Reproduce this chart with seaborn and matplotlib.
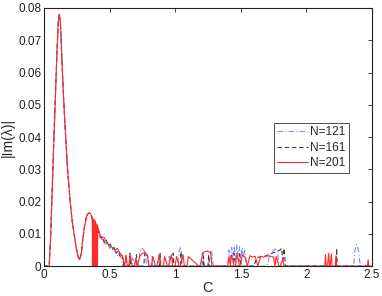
import matplotlib
matplotlib.use("Agg")
import matplotlib.pyplot as plt
import seaborn as sns

# ---------------------------------------------------------------
# data (C vs |Im(lambda)|)
# ---------------------------------------------------------------
# main hump, shared by all three N
HUMP_C = [0.0, 0.04, 0.05, 0.06, 0.07, 0.08, 0.09, 0.10, 0.11, 0.117, 0.125,
          0.13, 0.14, 0.15, 0.16, 0.17, 0.18, 0.19, 0.20, 0.215, 0.23, 0.245,
          0.26, 0.272, 0.285, 0.295, 0.31, 0.325, 0.335, 0.345, 0.355]
HUMP_V = [0.0, 0.0, 0.008, 0.02, 0.033, 0.045, 0.056, 0.067, 0.076, 0.078, 0.076,
          0.071, 0.061, 0.052, 0.044, 0.037, 0.030, 0.025, 0.020, 0.014, 0.010, 0.006,
          0.003, 0.002, 0.004, 0.008, 0.0125, 0.0155, 0.0162, 0.0165, 0.0162]

# N=121 tail
C_121 = [0.365, 0.375, 0.385, 0.395, 0.405, 0.415, 0.425, 0.44, 0.455, 0.47, 0.485,
         0.50, 0.515, 0.53, 0.545, 0.56, 0.575, 0.59, 0.60, 0.62, 0.625, 0.64, 0.645,
         0.67, 0.675, 0.70, 0.72, 0.73, 0.745, 0.76, 0.775, 0.78, 0.82, 0.825, 0.83,
         0.87, 0.875, 0.88, 0.95, 0.955, 0.96, 1.02, 1.03, 1.04, 1.05, 1.06, 1.2,
         1.205, 1.215, 1.22, 1.26, 1.27, 1.28, 1.29, 1.40, 1.41, 1.42, 1.43, 1.44,
         1.45, 1.46, 1.47, 1.48, 1.49, 1.50, 1.51, 1.52, 1.53, 1.54, 1.55, 1.70,
         1.72, 1.74, 1.76, 1.78, 1.79, 2.36, 2.37, 2.38, 2.39, 2.40, 2.41, 2.5]
IM_121 = [0.0152, 0.0132, 0.0138, 0.0115, 0.0122, 0.0098, 0.0105, 0.0078, 0.0085, 0.0068, 0.0075,
          0.0055, 0.006, 0.0045, 0.005, 0.0032, 0.0038, 0.0025, 0.0, 0.0, 0.003, 0.0, 0.0,
          0.0, 0.0025, 0.0, 0.0, 0.004, 0.0057, 0.005, 0.004, 0.0, 0.0, 0.003, 0.0,
          0.0, 0.0035, 0.0, 0.0, 0.003, 0.0, 0.0, 0.0045, 0.0057, 0.004, 0.0, 0.0,
          0.004, 0.004, 0.0, 0.0, 0.0047, 0.004, 0.0, 0.0, 0.005, 0.002, 0.0058, 0.003,
          0.0062, 0.002, 0.0065, 0.003, 0.006, 0.002, 0.0058, 0.0025, 0.005, 0.002, 0.0, 0.0,
          0.0035, 0.0045, 0.0053, 0.005, 0.0, 0.0, 0.005, 0.0067, 0.006, 0.004, 0.0, 0.0]

# N=161 tail
C_161 = [0.365, 0.375, 0.385, 0.395, 0.405, 0.415, 0.43, 0.445, 0.46, 0.475, 0.49,
         0.505, 0.52, 0.535, 0.55, 0.565, 0.58, 0.595, 0.61, 0.65, 0.655, 0.66, 0.70,
         0.705, 0.71, 0.76, 0.77, 0.78, 0.79, 0.80, 0.88, 0.885, 0.89, 0.98, 0.985,
         0.99, 1.04, 1.045, 1.05, 1.21, 1.215, 1.22, 1.25, 1.255, 1.26, 1.44, 1.45,
         1.46, 1.48, 1.49, 1.50, 1.60, 1.62, 1.65, 1.68, 1.71, 1.74, 1.77, 1.80,
         1.81, 1.82, 1.83, 1.84, 2.225, 2.23, 2.235, 2.5]
IM_161 = [0.015, 0.0135, 0.0128, 0.0118, 0.011, 0.0108, 0.0088, 0.0092, 0.0072, 0.008, 0.0062,
          0.0068, 0.0052, 0.0058, 0.004, 0.0048, 0.003, 0.0036, 0.0, 0.0, 0.004, 0.0, 0.0,
          0.0035, 0.0, 0.0, 0.0045, 0.004, 0.003, 0.0, 0.0, 0.004, 0.0, 0.0, 0.004,
          0.0, 0.0, 0.0045, 0.0, 0.0, 0.003, 0.0, 0.0, 0.0035, 0.0, 0.0, 0.004,
          0.0, 0.0, 0.0038, 0.0, 0.0, 0.0025, 0.003, 0.003, 0.0035, 0.004, 0.0045, 0.005,
          0.0055, 0.002, 0.0055, 0.0, 0.0, 0.0055, 0.0, 0.0]

# N=201 tail
C_201 = [0.36, 0.368, 0.370, 0.373, 0.378, 0.380, 0.384, 0.390, 0.392, 0.396,
         0.402, 0.404, 0.408, 0.41, 0.42, 0.43, 0.44, 0.45, 0.46,
         0.47, 0.48, 0.49, 0.50, 0.52, 0.54, 0.56, 0.58, 0.60, 0.615, 0.625, 0.635,
         0.645, 0.66, 0.67, 0.69, 0.70, 0.71, 0.73, 0.75, 0.77, 0.79, 0.80, 0.82,
         0.83, 0.85, 0.86, 0.88, 0.89, 0.91, 0.92, 0.94, 0.95, 0.97, 0.98, 1.00,
         1.01, 1.03, 1.04, 1.06, 1.07, 1.09, 1.10, 1.18, 1.19, 1.21, 1.24, 1.27,
         1.28, 1.29, 1.40, 1.41, 1.42, 1.43, 1.45, 1.46, 1.47, 1.49, 1.50, 1.51,
         1.53, 1.55, 1.57, 1.59, 1.61, 1.63, 1.65, 1.67, 1.69, 1.71, 1.73, 1.75,
         1.76, 1.77, 1.79, 1.80, 1.82, 1.83, 2.14, 2.145, 2.15, 2.16, 2.17, 2.175,
         2.18, 2.19, 2.195, 2.22, 2.225, 2.23, 2.465, 2.47, 2.475, 2.5]
IM_201 = [0.0158, 0.015, 0.0, 0.0147, 0.0, 0.0144, 0.0, 0.0140, 0.0, 0.0135,
          0.0, 0.0128, 0.0, 0.0122, 0.0108, 0.0095, 0.0085, 0.009, 0.0088,
          0.008, 0.0072, 0.0068, 0.0062, 0.0058, 0.005, 0.0055, 0.004, 0.003, 0.0, 0.0035, 0.0,
          0.0, 0.0035, 0.0, 0.0, 0.0025, 0.0, 0.003, 0.004, 0.004, 0.003, 0.0, 0.0,
          0.003, 0.0, 0.0, 0.0035, 0.0, 0.0, 0.003, 0.0, 0.0, 0.0035, 0.0, 0.0,
          0.003, 0.0, 0.0, 0.0035, 0.0, 0.0, 0.003, 0.0, 0.0, 0.0042, 0.0047, 0.0042,
          0.0, 0.0, 0.0, 0.003, 0.0, 0.0035, 0.0, 0.0, 0.004, 0.0, 0.0, 0.0035,
          0.003, 0.0, 0.0032, 0.0028, 0.003, 0.0, 0.003, 0.0028, 0.003, 0.0032, 0.003, 0.0028,
          0.0, 0.003, 0.0, 0.0, 0.0022, 0.0, 0.0, 0.0035, 0.0, 0.0, 0.004, 0.0,
          0.0, 0.0038, 0.0, 0.0, 0.0032, 0.0, 0.0, 0.002, 0.0, 0.0]

SERIES = [
    ("N=121", HUMP_C + C_121, HUMP_V + IM_121, "#7f8cff", (0, (5, 2, 1, 2))),
    ("N=161", HUMP_C + C_161, HUMP_V + IM_161, "#404040", (0, (4, 2.5))),
    ("N=201", HUMP_C + C_201, HUMP_V + IM_201, "#ff2b2b", "-"),
]

# ---------------------------------------------------------------
# plot
# ---------------------------------------------------------------
sns.set_style("white")
plt.rcParams["font.family"] = ["Liberation Sans", "DejaVu Sans"]

fig = plt.figure(figsize=(3.82, 2.96), dpi=100)
ax = fig.add_axes([0.115, 0.101, 0.859, 0.872])

for label, xs, ys, color, ls in SERIES:
    sns.lineplot(x=xs, y=ys, ax=ax, color=color, linestyle=ls, linewidth=0.8,
                 label=label, sort=False, estimator=None)

ax.set_xlim(0, 2.5)
ax.set_ylim(0, 0.08)
ax.set_xticks([0, 0.5, 1, 1.5, 2, 2.5])
ax.set_xticklabels(["0", "0.5", "1", "1.5", "2", "2.5"])
ax.set_yticks([0, 0.01, 0.02, 0.03, 0.04, 0.05, 0.06, 0.07, 0.08])
ax.set_yticklabels(["0", "0.01", "0.02", "0.03", "0.04", "0.05", "0.06", "0.07", "0.08"])
ax.tick_params(direction="in", length=3, width=0.6, labelsize=8.5,
               top=True, right=True, colors="#222222", pad=2)
for s in ax.spines.values():
    s.set_color("#222222")
    s.set_linewidth(0.8)

ax.set_xlabel("C", fontsize=10.5, labelpad=0)
ax.set_ylabel("|Im(λ)|", fontsize=10, labelpad=2)

leg = ax.legend(loc="upper left", bbox_to_anchor=(0.70, 0.555), borderaxespad=0,
                fontsize=8.5, frameon=True, fancybox=False, handlelength=2.6,
                handletextpad=0.2, borderpad=0.3, labelspacing=0.3)
leg.get_frame().set_edgecolor("#222222")
leg.get_frame().set_linewidth(0.7)

fig.savefig("out.png", dpi=100)
